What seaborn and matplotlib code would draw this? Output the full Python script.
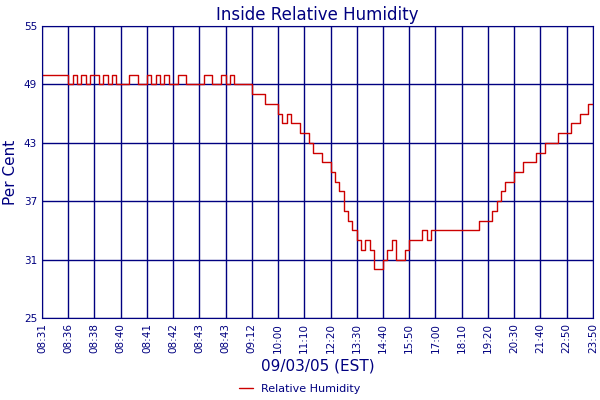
import numpy as np
import pandas as pd
import matplotlib
matplotlib.use('Agg')
import matplotlib.pyplot as plt
import seaborn as sns

# tick labels along the x axis (evenly spaced sample positions)
tick_labels = ['08:31', '08:36', '08:38', '08:40', '08:41', '08:42', '08:43', '08:43',
               '09:12', '10:00', '11:10', '12:20', '13:30', '14:40', '15:50', '17:00',
               '18:10', '19:20', '20:30', '21:40', '22:50', '23:50']

# humidity readings, 6 per tick interval
humidity = [
    50, 50, 50, 50, 50, 50,
    49, 50, 49, 50, 49, 50,
    50, 49, 50, 49, 50, 49,
    49, 49, 50, 50, 49, 49,
    50, 49, 50, 49, 50, 49,
    49, 50, 50, 49, 49, 49,
    49, 50, 50, 49, 49, 50,
    49, 50, 49, 49, 49, 49,
    48, 48, 48, 47, 47, 47,
    46, 45, 46, 45, 45, 44,
    44, 43, 42, 42, 41, 41,
    40, 39, 38, 36, 35, 34,
    33, 32, 33, 32, 30, 30,
    31, 32, 33, 31, 31, 32,
    33, 33, 33, 34, 33, 34,
    34, 34, 34, 34, 34, 34,
    34, 34, 34, 34, 35, 35,
    35, 36, 37, 38, 39, 39,
    40, 40, 41, 41, 41, 42,
    42, 43, 43, 43, 44, 44,
    44, 45, 45, 46, 46, 47,
    47,
]

navy = '#000080'
df = pd.DataFrame({'pos': np.arange(len(humidity)) / 6.0, 'rh': humidity})

sns.set_style('white')
fig = plt.figure(figsize=(6, 4), dpi=100)
ax = fig.add_axes([0.07, 0.205, 0.918, 0.73])
sns.lineplot(data=df, x='pos', y='rh', color='#cc0000', linewidth=1,
             drawstyle='steps-post', label='Relative Humidity', ax=ax, legend=False)

ax.set_xlim(0, len(tick_labels) - 1)
ax.set_ylim(25, 55)
ax.set_xticks(range(len(tick_labels)))
ax.set_xticklabels(tick_labels, rotation=90)
ax.set_yticks([25, 31, 37, 43, 49, 55])
ax.tick_params(colors=navy, labelsize=7.5, length=0)
ax.grid(True, color=navy, linewidth=1)
for s in ax.spines.values():
    s.set_color(navy)

ax.set_title('Inside Relative Humidity', color=navy, fontsize=12, pad=4)
ax.set_ylabel('Per Cent', color=navy, fontsize=11)
ax.set_xlabel('09/03/05 (EST)', color=navy, fontsize=11, labelpad=4)
leg = fig.legend(handles=ax.get_lines()[:1], labels=['Relative Humidity'],
                 loc='lower center', bbox_to_anchor=(0.5, -0.01), frameon=False,
                 fontsize=8, handlelength=1.2)
for t in leg.get_texts():
    t.set_color(navy)

fig.savefig('out.png')
